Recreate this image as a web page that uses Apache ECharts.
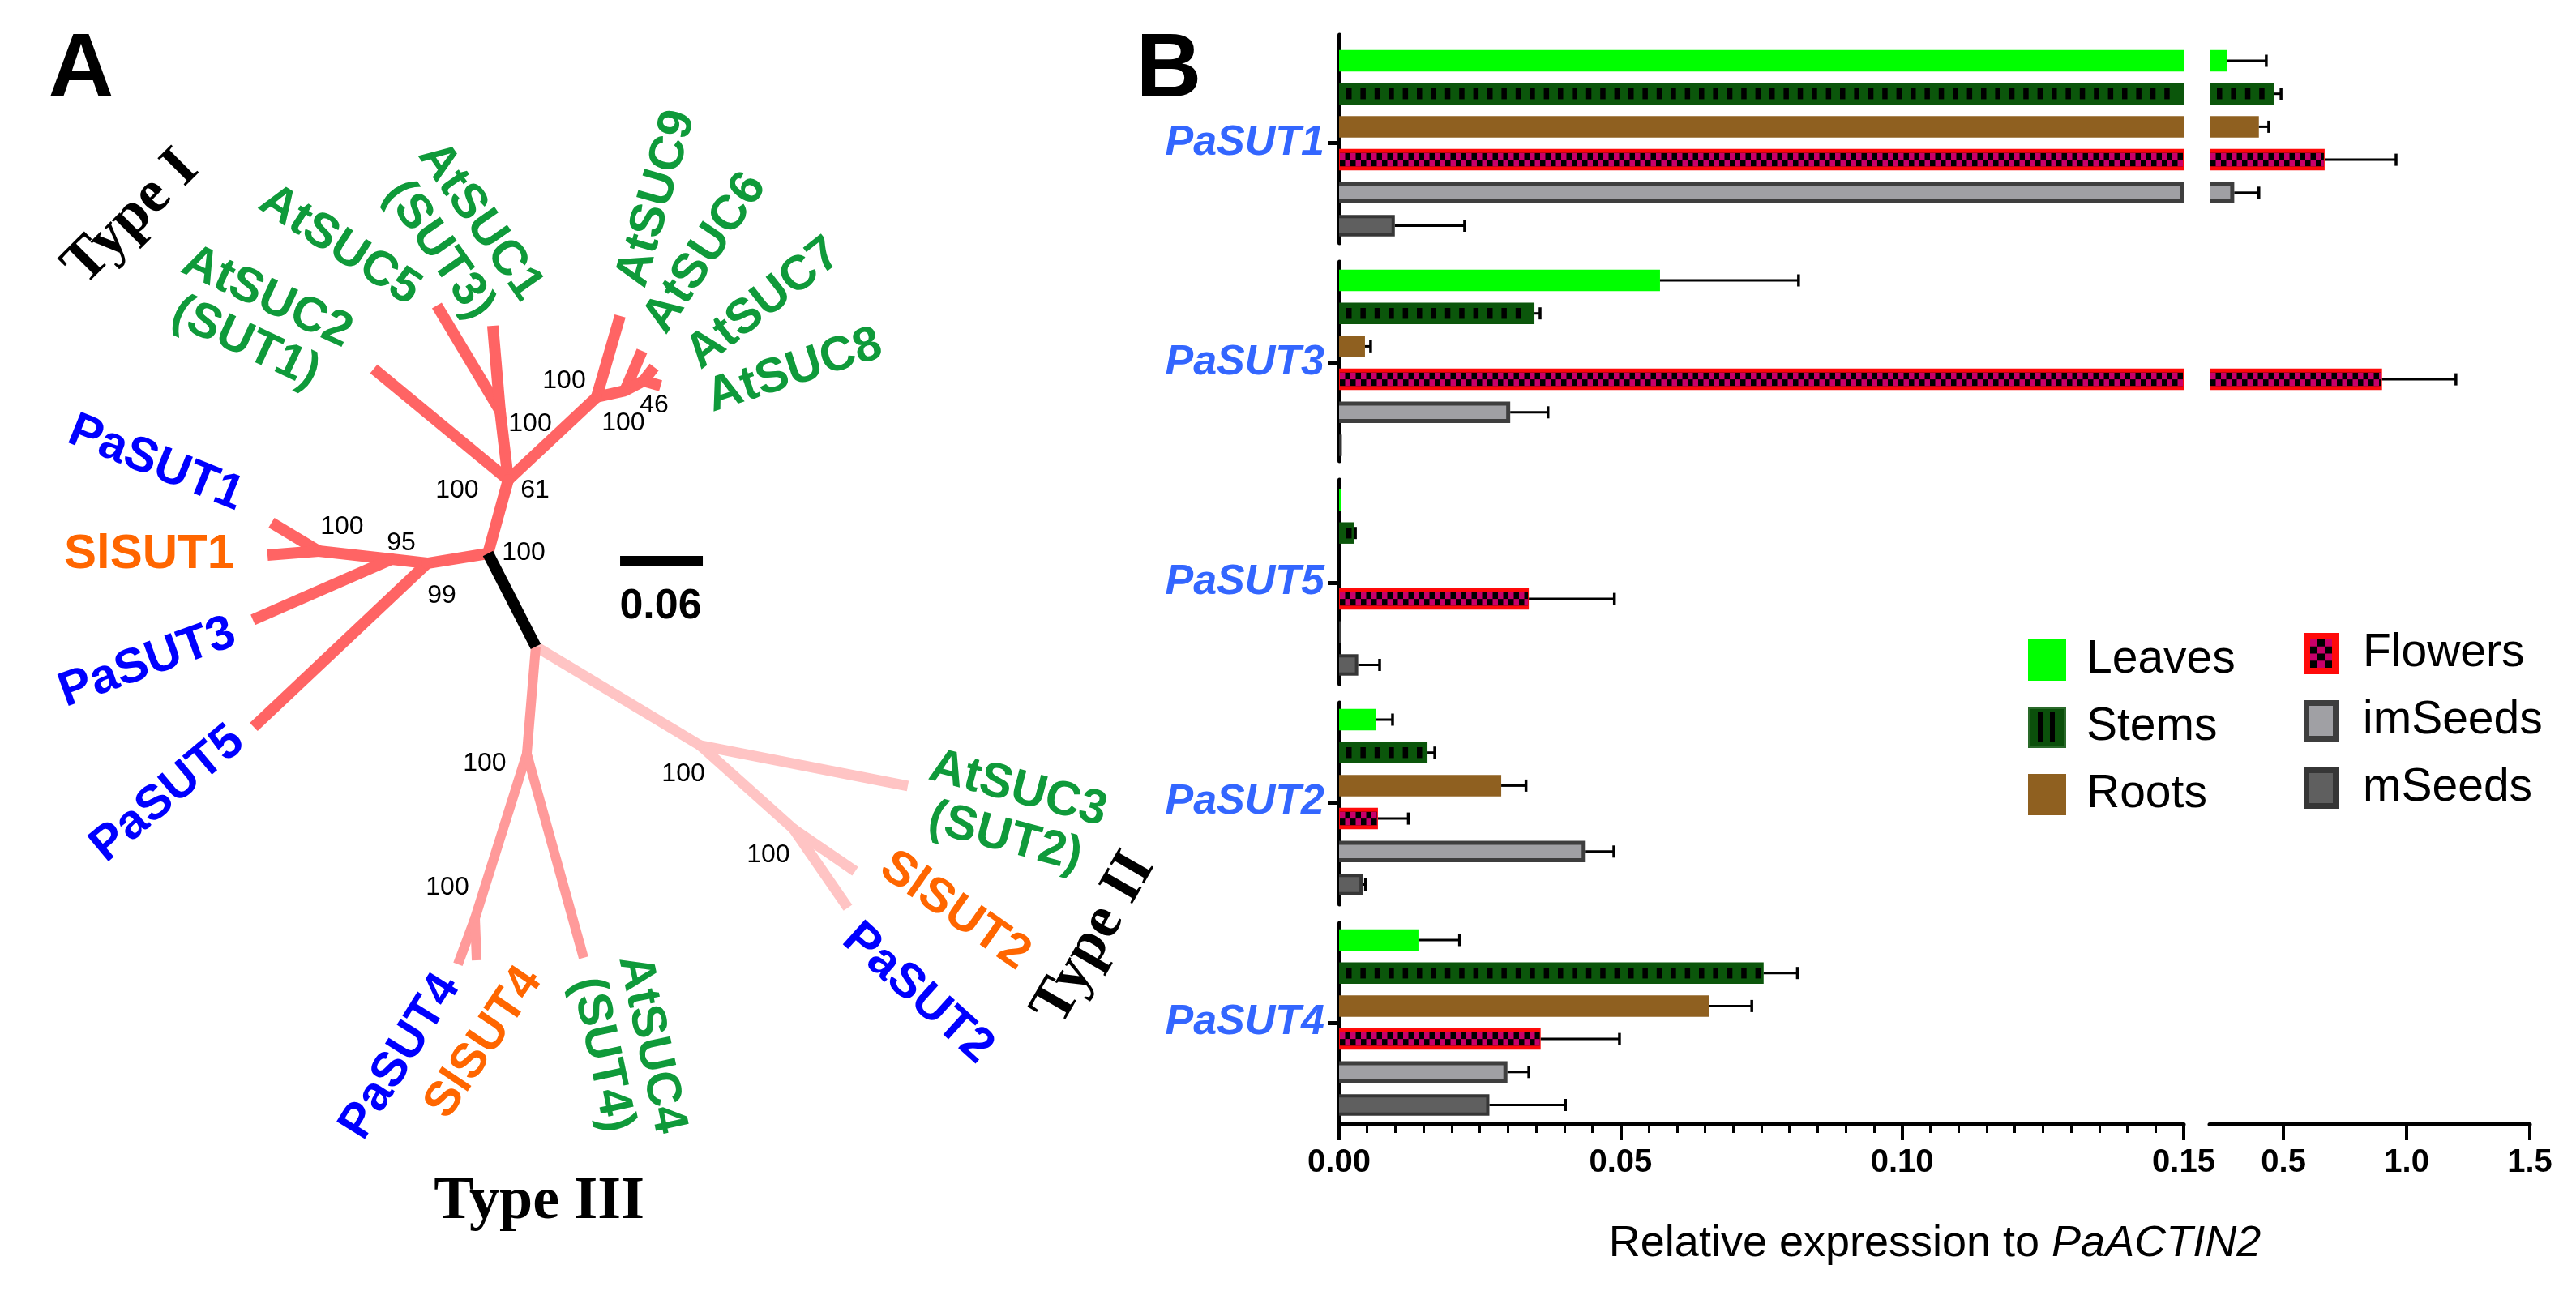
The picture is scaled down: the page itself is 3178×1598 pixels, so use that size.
<!DOCTYPE html>
<html><head><meta charset="utf-8">
<script src="https://cdn.jsdelivr.net/npm/echarts@6/dist/echarts.min.js"></script>
<style>html,body{margin:0;padding:0;background:#fff}#c{width:3178px;height:1598px}</style>
</head><body><div id="c"></div>
<script>
// ================= Panel B data =================
const genes = ['PaSUT1', 'PaSUT3', 'PaSUT5', 'PaSUT2', 'PaSUT4'];
const tissues = ['Leaves', 'Stems', 'Roots', 'Flowers', 'imSeeds', 'mSeeds'];
const leaves     = [0.27,  0.057,  0.0003, 0.0065, 0.0141];
const leavesErr  = [0.16,  0.0246, 0,      0.003,  0.0073];
const stems      = [0.46,  0.0347, 0.0026, 0.0157, 0.0754];
const stemsErr   = [0.03,  0.001,  0.0003, 0.0013, 0.006];
const roots      = [0.40,  0.0046, 0,      0.0288, 0.0657];
const rootsErr   = [0.04,  0.001,  0,      0.0044, 0.0076];
const flowers    = [0.667, 0.90,   0.0337, 0.0069, 0.0358];
const flowersErr = [0.29,  0.30,   0.0152, 0.0054, 0.014];
const imSeeds    = [0.30,  0.0304, 0.0003, 0.0438, 0.0299];
const imSeedsErr = [0.10,  0.0067, 0,      0.005,  0.0038];
const mSeeds     = [0.0099, 0.0005, 0.0034, 0.0042, 0.0267];
const mSeedsErr  = [0.0124, 0,      0.0038, 0.0005, 0.0135];
const lowTicks = [0, 0.05, 0.10, 0.15];
const highTicks = [0.5, 1.0, 1.5];
const xTitle = 'Relative expression to ';
const xTitleItalic = 'PaACTIN2';

// ================= Panel A data (tree units: substitutions/site) =================
const treeNodes = [
  ['A', 0, 0], ['C', 0.0147, 0.0535], ['D', 0.0088, 0.1035], ['E', 0.0788, 0.1135],
  ['F', 0.0994, 0.1182], ['G', 0.1129, 0.1253], ['H', -0.0441, -0.0071], ['I', -0.07, -0.0041],
  ['J', -0.1229, 0.0018], ['B', 0.0347, -0.0676], ['K', 0.0282, -0.1453], ['L', -0.0094, -0.2647],
  ['M', 0.1541, -0.1394], ['N', 0.2218, -0.2],
  ['AtSUC5', -0.0371, 0.18], ['AtSUC1', 0.0035, 0.1653], ['AtSUC2', -0.0829, 0.1341],
  ['AtSUC9', 0.0959, 0.1724], ['AtSUC6', 0.1118, 0.1471], ['AtSUC7', 0.1206, 0.1353], ['AtSUC8', 0.1253, 0.1218],
  ['PaSUT1', -0.1571, 0.0224], ['SlSUT1', -0.16, -0.0012], ['PaSUT3', -0.1706, -0.0482], ['PaSUT5', -0.17, -0.1259],
  ['PaSUT4', -0.0218, -0.2982], ['SlSUT4', -0.0082, -0.2953], ['AtSUC4', 0.0694, -0.2935],
  ['AtSUC3', 0.3047, -0.1688], ['SlSUT2', 0.2665, -0.2306], ['PaSUT2', 0.2612, -0.2571]
];
const edgesTypeI = [['A','C'],['C','D'],['D','AtSUC5'],['D','AtSUC1'],['C','AtSUC2'],['C','E'],['E','AtSUC9'],['E','F'],
  ['F','AtSUC6'],['F','G'],['G','AtSUC7'],['G','AtSUC8'],['A','H'],['H','I'],['I','J'],['J','PaSUT1'],['J','SlSUT1'],
  ['I','PaSUT3'],['H','PaSUT5']];
const edgesStem = [['A','B']];
const edgesTypeIII = [['B','K'],['K','L'],['L','PaSUT4'],['L','SlSUT4'],['K','AtSUC4']];
const edgesTypeII = [['B','M'],['M','AtSUC3'],['M','N'],['N','SlSUT2'],['N','PaSUT2']];
// [text, u, v, rotation(deg, ccw), species]
const tipLabels = [
  ['PaSUT1', -0.2412, 0.0653, -22, 'pa'], ['SlSUT1', -0.2459, -0.0006, 0, 'sl'],
  ['PaSUT3', -0.2471, -0.0794, 20, 'pa'], ['PaSUT5', -0.2324, -0.1747, 40, 'pa'],
  ['AtSUC2\n(SUT1)', -0.1682, 0.1694, -25, 'at'], ['AtSUC5', -0.1076, 0.2235, -33, 'at'],
  ['AtSUC1\n(SUT3)', -0.0206, 0.2306, -55, 'at'], ['AtSUC9', 0.1224, 0.2576, 74, 'at'],
  ['AtSUC6', 0.1576, 0.2182, 56, 'at'], ['AtSUC7', 0.2, 0.1812, 38, 'at'], ['AtSUC8', 0.2224, 0.1324, 18, 'at'],
  ['AtSUC3\n(SUT2)', 0.38, -0.1888, -15, 'at'], ['SlSUT2', 0.3388, -0.2594, -35, 'sl'],
  ['PaSUT2', 0.3118, -0.3194, -42, 'pa'], ['PaSUT4', -0.0635, -0.3653, 58, 'pa'],
  ['SlSUT4', -0.0029, -0.3553, 56, 'sl'], ['AtSUC4\n(SUT4)', 0.1006, -0.36, -78, 'at']
];
const bootstrap = [
  ['100', 0.0553, 0.1253], ['100', 0.0306, 0.0941], ['100', 0.0982, 0.0947], ['46', 0.1206, 0.1076],
  ['100', -0.0224, 0.0459], ['61', 0.0341, 0.0459], ['100', -0.1059, 0.0194], ['95', -0.0629, 0.0076],
  ['100', 0.0259, 0.0006], ['99', -0.0335, -0.0306], ['100', -0.0024, -0.1524], ['100', 0.1418, -0.16],
  ['100', 0.2035, -0.2188], ['100', -0.0294, -0.2424]
];
const cladeLabels = [['Type I', -0.2588, 0.2436, 45], ['Type II', 0.44, -0.2794, 60], ['Type III', 0.0371, -0.4712, 0]];
const scaleBar = [0.0959, -0.0053, 0.06]; // start u, v, length
const scaleText = ['0.06', 0.1253, -0.0388];

// ================= layout (pixels) =================
const TREE = { left: 0, top: 0, width: 1400, height: 1598, ox: 602, oy: 683, pxPerUnit: 1700 };
const SEG = [
  { top: 43, bottom: 300, first: 75 },
  { top: 323, bottom: 569, first: 346 },
  { top: 592, bottom: 844, first: 617 },
  { top: 867, bottom: 1116, first: 888 },
  { top: 1139, bottom: 1387, first: 1160 }
];
const STEP = 40.7, BAR_FRAC = 0.65;
const XL = { left: 1652, right: 2694, min: 0, max: 0.15 };
const XR = { left: 2726, right: 3121, min: 0.2, max: 1.5 };
const FONT = 'Liberation Sans';

const vals = [leaves, stems, roots, flowers, imSeeds, mSeeds];
const errs = [leavesErr, stemsErr, rootsErr, flowersErr, imSeedsErr, mSeedsErr];
const spColor = { pa: '#0000ff', sl: '#ff6600', at: '#0f9a3a' };

// ---------- bar renderer ----------
function rect(x, y, w, h, fill) { return { type: 'rect', shape: { x, y, width: w, height: h }, style: { fill } }; }
function makeRender(t, side) {
  return function (params, api) {
    const v = api.value(0), idx = api.value(1), err = api.value(2);
    const cs = params.coordSys;
    const left = cs.x, right = cs.x + cs.width;
    const cy = api.coord([side === 0 ? 0 : XR.min, idx])[1];
    const band = Math.abs(api.coord([side === 0 ? 0 : XR.min, idx + 1])[1] - cy);
    const h = band * BAR_FRAC, y = cy - h / 2;
    const xv = api.coord([v, idx])[0];
    const x0 = side === 0 ? api.coord([0, idx])[0] : left;
    const x1 = Math.min(xv, right);
    const ch = [];
    const w = x1 - x0;
    if (w > 0.3) {
      if (t === 0) ch.push(rect(x0, y, w, h, '#00ff00'));
      else if (t === 1) {
        ch.push(rect(x0, y, w, h, '#0b560b'));
        for (let sx = x0 + 9; sx + 6 <= x1 - 2; sx += 17.4) ch.push(rect(sx, y + 6.5, 6.5, h - 13, '#000'));
      } else if (t === 2) ch.push(rect(x0, y, w, h, '#8f6020'));
      else if (t === 3) {
        ch.push(rect(x0, y, w, h, '#ff0a0a'));
        if (w > 4) {
          const iy = y + 5, ih = h - 10, cw = 6.5;
          ch.push(rect(x0 + 1, iy, w - 2, ih, '#000'));
          let col = 0;
          for (let sx = x0 + 1; sx < x1 - 1; sx += cw, col++) {
            const ww = Math.min(cw, x1 - 1 - sx);
            if (col % 2 === 0) ch.push(rect(sx, iy, ww, ih / 2, '#c8006a'));
            else ch.push(rect(sx, iy + ih / 2, ww, ih / 2, '#c8006a'));
          }
        }
      } else if (t === 4) {
        ch.push(rect(x0, y, w, h, '#3e3e3e'));
        if (w > 10) ch.push(rect(x0, y + 5, w - 5, h - 10, '#a0a0a4'));
      } else if (t === 5) {
        ch.push(rect(x0, y, w, h, '#363636'));
        if (w > 8) ch.push(rect(x0, y + 4, w - 4, h - 8, '#5f5f5f'));
      }
    }
    if (err > 0) {
      const xe = api.coord([v + err, idx])[0];
      const s = Math.max(xv, left), e = Math.min(xe, right);
      if (xv <= right && e > s) {
        ch.push({ type: 'line', shape: { x1: s, y1: cy, x2: e, y2: cy }, style: { stroke: '#000', lineWidth: 3 } });
        if (xe <= right) ch.push({ type: 'line', shape: { x1: xe, y1: cy - 7.5, x2: xe, y2: cy + 7.5 }, style: { stroke: '#000', lineWidth: 3.5 } });
      }
    }
    return { type: 'group', children: ch };
  };
}

// ---------- legend icons ----------
function icon(t, W, H) {
  const c = document.createElement('canvas'); c.width = W; c.height = H;
  const g = c.getContext('2d');
  if (t === 0) { g.fillStyle = '#00ff00'; g.fillRect(0, 0, W, H); }
  if (t === 1) {
    g.fillStyle = '#2a6a2a'; g.fillRect(0, 0, W, H); g.fillStyle = '#0b500b'; g.fillRect(3, 3, W - 6, H - 6);
    g.fillStyle = '#000'; g.fillRect(12, 7, 6, H - 14); g.fillRect(27, 7, 6, H - 14);
  }
  if (t === 2) { g.fillStyle = '#8f6020'; g.fillRect(0, 0, W, H); }
  if (t === 3) {
    g.fillStyle = '#ff0a0a'; g.fillRect(0, 0, W, H);
    const ix = 8, iy = 8, iw = W - 16, ih = H - 16, cw = iw / 3, chh = ih / 4;
    g.fillStyle = '#000'; g.fillRect(ix, iy, iw, ih);
    g.fillStyle = '#c8006a';
    for (let r = 0; r < 4; r++) for (let k = 0; k < 3; k++) if ((r + k) % 2 === 0) g.fillRect(ix + k * cw, iy + r * chh, cw, chh);
  }
  if (t === 4) { g.fillStyle = '#3e3e3e'; g.fillRect(0, 0, W, H); g.fillStyle = '#a0a0a4'; g.fillRect(7, 7, W - 14, H - 14); }
  if (t === 5) { g.fillStyle = '#363636'; g.fillRect(0, 0, W, H); g.fillStyle = '#5f5f5f'; g.fillRect(7, 7, W - 14, H - 14); }
  return 'image://' + c.toDataURL();
}

// ---------- build option ----------
const grid = [], xAxis = [], yAxis = [], series = [];
SEG.forEach((sg, s) => {
  [XL, XR].forEach((X, side) => {
    const gi = grid.length;
    grid.push({ left: X.left, top: sg.top, width: X.right - X.left, height: sg.bottom - sg.top, containLabel: false, outerBoundsMode: 'none' });
    const bottom = s === SEG.length - 1;
    const ymin = -(sg.first - sg.top) / STEP;
    const ymax = ymin + (sg.bottom - sg.top) / STEP;
    const xa = { gridIndex: gi, type: 'value', min: X.min, max: X.max, show: bottom, splitLine: { show: false },
      axisLine: { show: true, onZero: false, lineStyle: { color: '#000', width: 5 } },
      axisTick: { show: true, length: 20, lineStyle: { color: '#000', width: 4 } },
      axisLabel: { show: true, color: '#000', fontSize: 40, fontWeight: 'bold', fontFamily: FONT, margin: 28 } };
    if (side === 0) {
      xa.interval = 0.05;
      xa.minorTick = { show: true, splitNumber: 10, length: 11, lineStyle: { color: '#000', width: 3 } };
      xa.minorSplitLine = { show: false };
      xa.axisLabel.formatter = v => v.toFixed(2);
      xa.axisLabel.showMaxLabel = true; xa.axisLabel.showMinLabel = true;
    } else {
      xa.axisTick.customValues = highTicks;
      xa.axisLabel.customValues = highTicks;
      xa.axisLabel.formatter = v => v.toFixed(1);
    }
    xAxis.push(xa);
    yAxis.push({ gridIndex: gi, type: 'value', inverse: true, min: ymin, max: ymax, show: side === 0, splitLine: { show: false },
      axisLine: { show: true, onZero: false, lineStyle: { color: '#000', width: 5 } },
      axisTick: { show: true, customValues: [2.5], length: 14, lineStyle: { color: '#000', width: 5 } },
      axisLabel: { show: true, customValues: [2.5], formatter: () => genes[s], color: '#3366ff', fontSize: 52,
        fontWeight: 'bold', fontStyle: 'italic', fontFamily: FONT, margin: 18 } });
    tissues.forEach((tn, t) => {
      series.push({ type: 'custom', name: tn, xAxisIndex: gi, yAxisIndex: gi, clip: false, silent: true,
        renderItem: makeRender(t, side), encode: { x: 0, y: 1 },
        data: [[vals[t][s], t, errs[t][s]]] });
    });
  });
});

// tree grid
const tg = grid.length;
grid.push({ left: TREE.left, top: TREE.top, width: TREE.width, height: TREE.height, containLabel: false, outerBoundsMode: 'none' });
xAxis.push({ gridIndex: tg, type: 'value', show: false, min: (TREE.left - TREE.ox) / TREE.pxPerUnit, max: (TREE.left + TREE.width - TREE.ox) / TREE.pxPerUnit });
yAxis.push({ gridIndex: tg, type: 'value', show: false, min: (TREE.oy - TREE.top - TREE.height) / TREE.pxPerUnit, max: (TREE.oy - TREE.top) / TREE.pxPerUnit });
const nodePos = {}; treeNodes.forEach(n => nodePos[n[0]] = [n[1], n[2]]);
const internal = ['A','C','D','E','F','G','H','I','J','B','K','L','M','N'];
function edgeSeries(edges, color, width, z) {
  return { type: 'lines', coordinateSystem: 'cartesian2d', xAxisIndex: tg, yAxisIndex: tg, polyline: false, silent: true, z,
    lineStyle: { color, width, opacity: 1, cap: 'butt' },
    data: edges.map(e => ({ coords: [nodePos[e[0]], nodePos[e[1]]] })) };
}
function jointSeries(edges, color, width, z) {
  const ns = [...new Set(edges.flat())].filter(n => internal.includes(n) && n !== 'A' && n !== 'B');
  return { type: 'scatter', xAxisIndex: tg, yAxisIndex: tg, symbol: 'circle', symbolSize: width, silent: true, z,
    itemStyle: { color, opacity: 1 }, data: ns.map(n => nodePos[n]) };
}
series.push(edgeSeries(edgesTypeII, '#ffc4c4', 13, 2), jointSeries(edgesTypeII, '#ffc4c4', 13, 2));
series.push(edgeSeries(edgesTypeIII, '#ff9a9a', 12, 3), jointSeries(edgesTypeIII, '#ff9a9a', 12, 3));
series.push(edgeSeries(edgesTypeI, '#ff6464', 14, 4), jointSeries(edgesTypeI, '#ff6464', 14, 4));
series.push(edgeSeries(edgesStem, '#000', 14, 5));
// scale bar
series.push({ type: 'lines', coordinateSystem: 'cartesian2d', xAxisIndex: tg, yAxisIndex: tg, silent: true, z: 5,
  lineStyle: { color: '#000', width: 13, opacity: 1 },
  data: [{ coords: [[scaleBar[0], scaleBar[1]], [scaleBar[0] + scaleBar[2], scaleBar[1]]] }] });

function textSeries(items, z) {
  return { type: 'scatter', xAxisIndex: tg, yAxisIndex: tg, symbolSize: 1, silent: true, z,
    itemStyle: { color: 'rgba(255,255,255,0)', opacity: 1 }, data: items };
}
series.push(textSeries(tipLabels.map(l => ({ value: [l[1], l[2]], label: { show: true, position: 'inside', formatter: l[0], rotate: l[3],
  color: spColor[l[4]], opacity: 1, fontSize: 60, fontWeight: 'bold', fontFamily: FONT, lineHeight: 62, align: 'center', verticalAlign: 'middle' } })), 6));
series.push(textSeries(bootstrap.map(b => ({ value: [b[1], b[2]], label: { show: true, position: 'inside', formatter: b[0],
  color: '#000', opacity: 1, fontSize: 32, fontFamily: FONT } })), 6));
series.push(textSeries(cladeLabels.map(c => ({ value: [c[1], c[2]], label: { show: true, position: 'inside', formatter: c[0], rotate: c[3],
  color: '#000', opacity: 1, fontSize: 74, fontWeight: 'bold', fontFamily: 'Liberation Serif' } })), 6));
series.push(textSeries([{ value: [scaleText[1], scaleText[2]], label: { show: true, position: 'inside', formatter: scaleText[0],
  color: '#000', opacity: 1, fontSize: 52, fontWeight: 'bold', fontFamily: FONT } }], 6));

const legendText = { fontSize: 57, color: '#000', fontFamily: FONT };
const option = {
  animation: false,
  backgroundColor: '#fff',
  grid, xAxis, yAxis, series,
  legend: [
    { orient: 'vertical', left: 2502, top: 786, itemWidth: 47, itemHeight: 51, itemGap: 26, padding: 0, selectedMode: false,
      textStyle: Object.assign({ padding: [0, 0, 0, 20] }, legendText),
      data: [0, 1, 2].map(t => ({ name: tissues[t], icon: icon(t, 47, 51) })) },
    { orient: 'vertical', left: 2842, top: 778, itemWidth: 43, itemHeight: 51, itemGap: 26, padding: 0, selectedMode: false,
      textStyle: Object.assign({ padding: [0, 0, 0, 25] }, legendText),
      data: [3, 4, 5].map(t => ({ name: tissues[t], icon: icon(t, 43, 51) })) }
  ],
  graphic: [
    { type: 'text', x: 100, y: 88, style: { text: 'A', fontSize: 112, fontWeight: 'bold', fontFamily: FONT, fill: '#000', align: 'center', verticalAlign: 'middle' } },
    { type: 'text', x: 1442, y: 88, style: { text: 'B', fontSize: 112, fontWeight: 'bold', fontFamily: FONT, fill: '#000', align: 'center', verticalAlign: 'middle' } },
    { type: 'text', x: 2387, y: 1535, style: { text: xTitle + '{i|' + xTitleItalic + '}', fontSize: 54, fontFamily: FONT, fill: '#000',
      align: 'center', verticalAlign: 'middle', rich: { i: { fontStyle: 'italic', fontSize: 54, fontFamily: FONT, fill: '#000' } } } }
  ]
};
const chart = echarts.init(document.getElementById('c'));
chart.setOption(option);
</script></body></html>
